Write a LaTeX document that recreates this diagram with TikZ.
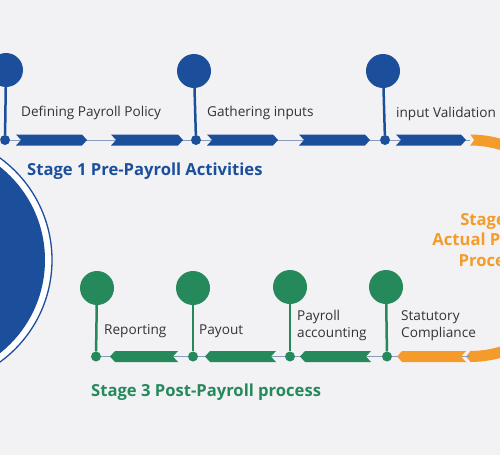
\documentclass[tikz,border=0pt]{standalone}
\usepackage{fontspec}
\setmainfont{Open Sans}
\definecolor{bg}{HTML}{F2F2F4}
\definecolor{pblue}{HTML}{1B4F9C}
\definecolor{pgreen}{HTML}{25895C}
\definecolor{porange}{HTML}{F49B2C}
\definecolor{plink}{HTML}{8A9BC0}
\newcommand\rbar[4]{\fill[#4] (#1,{#3-5.5}) -- ({#2-5},{#3-5.5}) -- (#2,#3) -- ({#2-5},{#3+5.5}) -- (#1,{#3+5.5}) -- ({#1+5},#3) -- cycle;}
\newcommand\lbar[4]{\fill[#4] (#1,#3) -- ({#1+5},{#3-5.5}) -- (#2,{#3-5.5}) -- ({#2-5},#3) -- (#2,{#3+5.5}) -- ({#1+5},{#3+5.5}) -- cycle;}
\tikzset{
  dot/.style={circle,fill=#1,minimum size=10pt,inner sep=0pt},
  bigdot/.style={circle,fill=#1,minimum size=34pt,inner sep=0pt},
  stem/.style={draw=#1,line width=2.5pt},
  link/.style={draw=plink,line width=0.9pt},
  lbl/.style={font=\fontsize{13.6}{17}\selectfont,text=black!80,anchor=west,inner sep=0pt,align=left},
  stage/.style={font=\fontsize{16.6}{20}\selectfont\bfseries,text=#1,anchor=west,inner sep=0pt}
}
\begin{document}
\begin{tikzpicture}[x=1pt,y=-1pt]
\useasboundingbox (0,0) rectangle (500,455);
\clip (0,0) rectangle (500,455);
\fill[bg] (0,0) rectangle (500,455);
% big left circle
\node[circle,draw=pblue,fill=white,line width=1.3pt,minimum size=252pt,inner sep=0pt] (ring) at (-74,260) {};
\node[circle,fill=pblue,minimum size=238pt,inner sep=0pt] (disk) at (-74,260) {};
% orange arc
\coordinate (oa) at (470,140);
\draw[porange,line width=11pt] (oa) arc[start angle=-90,end angle=90,radius=108.25];
\fill[bg] (469,133) -- (474,140) -- (469,147) -- cycle;
\fill[porange] (470.5,351.2) -- (466,356.5) -- (470.5,361.8) -- cycle;
% top row
\coordinate (t0) at (0,140);
\node[dot=pblue] (td1) at (5,140) {};
\node[dot=pblue] (td2) at (196,140) {};
\node[dot=pblue] (td3) at (385,140) {};
\node[bigdot=pblue] (tc1) at (6,70) {};
\node[bigdot=pblue] (tc2) at (194,71) {};
\node[bigdot=pblue] (tc3) at (383,71) {};
\draw[link] (t0) -- (td1) -- (td2) -- (td3) -- (oa);
\draw[stem=pblue] (tc1) -- (td1);
\draw[stem=pblue] (tc2) -- (td2);
\draw[stem=pblue] (tc3) -- (td3);
\rbar{16}{87}{140}{pblue}
\rbar{111}{183}{140}{pblue}
\rbar{207}{278}{140}{pblue}
\rbar{299}{370}{140}{pblue}
\rbar{396}{466}{140}{pblue}
\node[lbl] (l1) at (21,113) {Defining Payroll Policy};
\node[lbl] (l2) at (207,113) {Gathering inputs};
\node[lbl] (l3) at (396,114) {input Validation};
\node[stage=pblue] (s1) at (27,171) {Stage 1 Pre-Payroll Activities};
% bottom row
\coordinate (ob) at (470,356.5);
\node[dot=pgreen] (bd1) at (96,356.5) {};
\node[dot=pgreen] (bd2) at (193,356.5) {};
\node[dot=pgreen] (bd3) at (290,356.5) {};
\node[dot=pgreen] (bd4) at (387,356.5) {};
\node[bigdot=pgreen] (bc1) at (97,288) {};
\node[bigdot=pgreen] (bc2) at (193,288) {};
\node[bigdot=pgreen] (bc3) at (290,287) {};
\node[bigdot=pgreen] (bc4) at (386,287) {};
\draw[link] (bd1) -- (bd2) -- (bd3) -- (bd4) -- (ob);
\draw[stem=pgreen] (bc1) -- (bd1);
\draw[stem=pgreen] (bc2) -- (bd2);
\draw[stem=pgreen] (bc3) -- (bd3);
\draw[stem=pgreen] (bc4) -- (bd4);
\lbar{110}{178}{356.5}{pgreen}
\lbar{205}{276}{356.5}{pgreen}
\lbar{300}{371}{356.5}{pgreen}
\lbar{397}{466}{356.5}{porange}
\node[lbl] (m1) at (104,331) {Reporting};
\node[lbl] (m2) at (199,331) {Payout};
\node[lbl] (m3) at (297,325.5) {Payroll\\accounting};
\node[lbl] (m4) at (401,326) {Statutory\\Compliance};
\node[stage=pgreen] (s3) at (91,392) {Stage 3 Post-Payroll process};
\node[font=\fontsize{16.6}{20.5}\selectfont\bfseries,text=porange,align=center,inner sep=0pt] (s2) at (490,240) {Stage 2\\Actual Payroll\\Process};
\end{tikzpicture}
\end{document}
